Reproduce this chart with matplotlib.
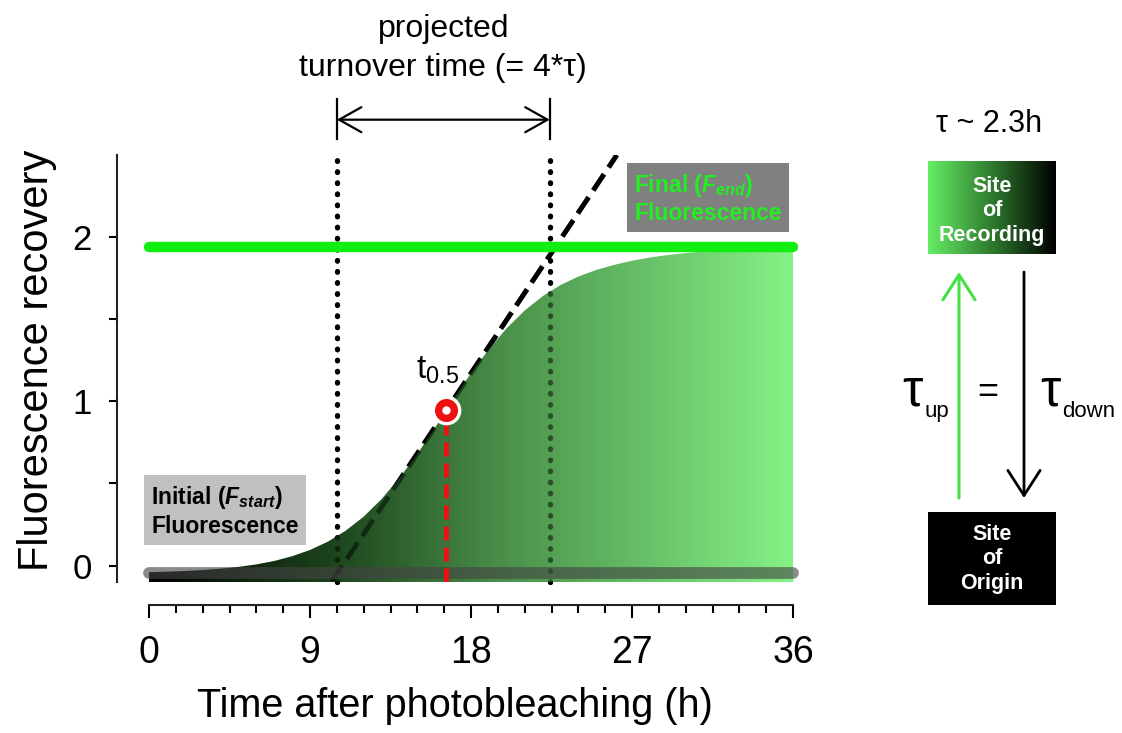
import matplotlib.pyplot as plt
import numpy as np
from matplotlib.colors import LinearSegmentedColormap
from matplotlib.patches import Rectangle

plt.rcParams['font.family'] = ['Liberation Sans', 'DejaVu Sans']
plt.rcParams['mathtext.fontset'] = 'custom'
plt.rcParams['mathtext.rm'] = 'Liberation Sans'
plt.rcParams['mathtext.it'] = 'Liberation Sans:italic'
plt.rcParams['mathtext.bf'] = 'Liberation Sans:bold'
plt.rcParams['mathtext.bfit'] = 'Liberation Sans:italic:bold'

# recovery curve
time_h = [0, 1, 2, 3, 4, 5, 6, 7, 8, 9, 10, 11, 12, 13, 14, 15, 16, 17, 18,
          19, 20, 21, 22, 23, 24, 25, 26, 27, 28, 29, 30, 31, 32, 33, 34, 35, 36]
recovery = [-0.040, -0.037, -0.033, -0.027, -0.019, -0.008, 0.007, 0.028, 0.057,
            0.095, 0.146, 0.213, 0.298, 0.405, 0.533, 0.680, 0.842, 1.010, 1.172,
            1.318, 1.446, 1.553, 1.640, 1.708, 1.760, 1.800, 1.831, 1.856, 1.876,
            1.891, 1.903, 1.912, 1.919, 1.924, 1.928, 1.931, 1.933]

f_start = -0.045
f_end = 1.94
t_half = 16.6
f_half = 0.945
turnover_t = [10.5, 22.4]          # projected turnover window
tangent_t = [10.2, 26.15]          # dashed tangent through t0.5
tangent_y = [-0.1, 2.5]

x_major = [0, 9, 18, 27, 36]
x_minor = [1.5, 3, 4.5, 6, 7.5, 10.5, 12, 13.5, 15, 16.5, 19.5, 21, 22.5, 24,
           25.5, 28.5, 30, 31.5, 33, 34.5]
y_major = [0, 1, 2]
y_minor = [0.5, 1.5]

fig = plt.figure(figsize=(11.22, 7.33), dpi=100)
ax = fig.add_axes([117 / 1122, 151 / 733, 685 / 1122, 427 / 733])

# gradient filled area under the curve
green_cmap = LinearSegmentedColormap.from_list(
    'rec', [(0, '#000000'), (0.28, '#1c431c'), (0.55, '#4a904a'), (1, '#86f286')])
poly = ax.fill_between(time_h, -0.1, recovery, facecolor='none', edgecolor='none')
grad = np.linspace(0, 1, 256).reshape(1, -1)
img = ax.imshow(grad, extent=[0, 36, -0.1, 2.0], aspect='auto', cmap=green_cmap,
                origin='lower', zorder=2)
img.set_clip_path(poly.get_paths()[0], transform=ax.transData)

# dotted window lines and dashed tangent (drawn twice: under fill, and faded over it)
for z, a in ((1, 1.0), (3, 0.5)):
    for tx in turnover_t:
        ax.plot([tx, tx], [-0.1, 2.52], color='black', lw=3.8,
                linestyle=(0, (0.1, 2.0)), dash_capstyle='round',
                alpha=a, zorder=z, clip_on=False)
    ax.plot(tangent_t, tangent_y, color='black', lw=3.5,
            linestyle=(0, (4, 1.7)), alpha=a, zorder=z)

ax.plot([0, 36], [f_end, f_end], color='#11ee11', lw=7.5,
        solid_capstyle='round', zorder=3.5, clip_on=False)
ax.plot([0, 36], [f_start, f_start], color='#444444', lw=8.5, alpha=0.62,
        solid_capstyle='round', zorder=4, clip_on=False)

ax.plot([t_half, t_half], [-0.1, f_half], color='#ee1111', lw=3.6,
        linestyle=(0, (2.8, 1.4)), zorder=5)
ax.plot([t_half], [f_half], marker='o', ms=19, mfc='#ee1111', mec='white',
        mew=2.4, zorder=6)
ax.plot([t_half], [f_half], marker='o', ms=6, mfc='white', mec='white',
        mew=0, zorder=6.5)
ax.text(16.1, 1.19, r'$\mathrm{t}_{0.5}$', fontsize=24, ha='center', va='center')

# text boxes
ax.text(4.25, 0.333, 'Initial ($\\mathbfit{F_{start}}$)\nFluorescence',
        fontsize=16.5, fontweight='bold', color='black', ha='center', va='center',
        multialignment='left', zorder=7,
        bbox=dict(boxstyle='square,pad=0.3', fc='#c0c0c0', ec='none'))
ax.text(31.25, 2.236, 'Final ($\\mathbfit{F_{end}}$)\nFluorescence',
        fontsize=16.5, fontweight='bold', color='#22ee22', ha='center', va='center',
        multialignment='left', zorder=7,
        bbox=dict(boxstyle='square,pad=0.3', fc='#808080', ec='none'))

# turnover bracket above the axes
for tx in turnover_t:
    ax.plot([tx, tx], [2.6, 2.84], color='black', lw=1.6, clip_on=False)
ax.annotate('', xy=(turnover_t[1], 2.715), xytext=(turnover_t[0], 2.715),
            arrowprops=dict(arrowstyle='<->,head_length=0.8,head_width=0.45',
                            color='black', lw=1.6, mutation_scale=20,
                            shrinkA=0, shrinkB=0), annotation_clip=False)
ax.text(16.45, 3.15, 'projected\nturnover time (= 4*τ)', fontsize=23,
        ha='center', va='center', linespacing=1.4)

ax.set_xlim(-1.79, 36.5)
ax.set_ylim(-0.1, 2.5)
for s in ('top', 'right'):
    ax.spines[s].set_visible(False)
ax.spines['bottom'].set_position(('outward', 16.5))
ax.spines['bottom'].set_bounds(0, 36)
for s in ('bottom', 'left'):
    ax.spines[s].set_linewidth(1.5)
    ax.spines[s].set_color('#222222')

ax.set_xticks(x_major)
ax.set_xticks(x_minor, minor=True)
ax.set_yticks(y_major)
ax.set_yticks(y_minor, minor=True)
ax.tick_params(axis='x', which='major', length=9, width=1.5, labelsize=27, pad=13)
ax.tick_params(axis='x', which='minor', length=6, width=1.5)
ax.tick_params(axis='y', which='both', length=6, width=1.5, labelsize=25, pad=12)

ax.set_ylabel('Fluorescence recovery', fontsize=30)
ax.yaxis.set_label_coords(-0.088, 0.52)
ax.set_xlabel('Time after photobleaching (h)', fontsize=28.5)
ax.xaxis.set_label_coords(0.4934, -0.245)

# right-hand schematic, in pixel coordinates
ax2 = fig.add_axes([0, 0, 1, 1])
ax2.set_xlim(0, 1122)
ax2.set_ylim(733, 0)
ax2.axis('off')

ax2.text(989, 124, 'τ ~ 2.3h', fontsize=22, ha='center', va='center')
box_cmap = LinearSegmentedColormap.from_list('box', ['#66ee66', '#2e7a2e', '#000000'])
ax2.imshow(grad, extent=[928, 1056, 254, 161], aspect='auto', cmap=box_cmap)
ax2.text(992, 211, 'Site\nof\nRecording', color='white', fontsize=15.5,
         fontweight='bold', ha='center', va='center', linespacing=1.2)
ax2.add_patch(Rectangle((928, 512), 128, 93, fc='black', ec='none'))
ax2.text(992, 559, 'Site\nof\nOrigin', color='white', fontsize=15.5,
         fontweight='bold', ha='center', va='center', linespacing=1.2)

ax2.annotate('', xy=(959, 272), xytext=(959, 498),
             arrowprops=dict(arrowstyle='->,head_length=0.9,head_width=0.58',
                             color='#44e044', lw=2.2, mutation_scale=20,
                             shrinkA=0, shrinkB=0))
ax2.annotate('', xy=(1024, 498), xytext=(1024, 272),
             arrowprops=dict(arrowstyle='->,head_length=0.9,head_width=0.58',
                             color='black', lw=2.0, mutation_scale=20,
                             shrinkA=0, shrinkB=0))

ax2.text(912, 405, 'τ', fontsize=37, ha='center', va='baseline')
ax2.text(925, 417, 'up', fontsize=16, ha='left', va='baseline')
ax2.text(988, 393, '=', fontsize=26, ha='center', va='center')
ax2.text(1050, 405, 'τ', fontsize=37, ha='center', va='baseline')
ax2.text(1062, 417, 'down', fontsize=16, ha='left', va='baseline')

ax2.set_xlim(0, 1122)
ax2.set_ylim(733, 0)

fig.savefig('out.png', dpi=100)
